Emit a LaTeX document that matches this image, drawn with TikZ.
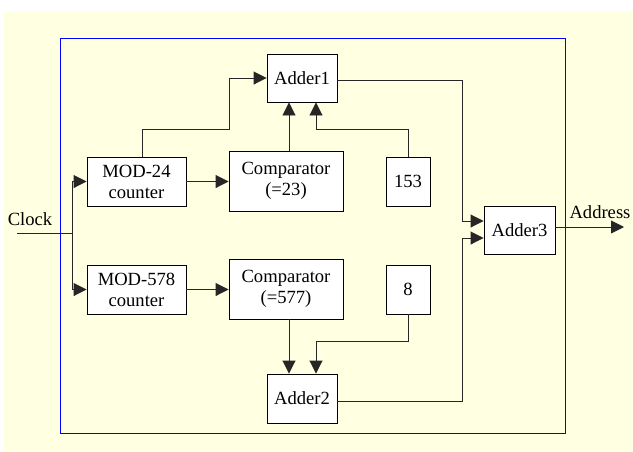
\documentclass[tikz,border=0pt]{standalone}
\usepackage{fontspec}
\setmainfont{Liberation Serif}
\usetikzlibrary{arrows.meta}
\definecolor{paper}{RGB}{255,255,225}
\begin{document}
\begin{tikzpicture}[x=1pt,y=-1pt,
  block/.style={draw=black, line width=0.9pt, fill=white, inner sep=0pt,
    align=center, font=\fontsize{18.6}{21}\selectfont},
  wire/.style={line width=0.9pt, draw=black!85},
  arr/.style={wire, -{Triangle[length=13pt,width=13pt]}},
  lbl/.style={font=\fontsize{18.6}{21}\selectfont, inner sep=0pt}]
\useasboundingbox (0,0) rectangle (633,451);
% background and frame
\fill[paper] (4,11) rectangle (633,451);
\draw[blue, line width=1pt] (60,38) rectangle (565,433);

% blocks
\node[block, minimum width=70pt, minimum height=48pt] (adder1) at (302,78) {Adder1};
\node[block, minimum width=99pt, minimum height=49pt] (mod24) at (136.5,181.5) {MOD-24\\counter};
\node[block, minimum width=114pt, minimum height=60pt] (comp1) at (286,181) {Comparator\\(=23)};
\node[block, minimum width=44pt, minimum height=49pt] (n153) at (408,181.5) {153};
\node[block, minimum width=71pt, minimum height=48pt] (adder3) at (519.5,230) {Adder3};
\node[block, minimum width=99pt, minimum height=49pt] (mod578) at (136.5,289.5) {MOD-578\\counter};
\node[block, minimum width=114pt, minimum height=60pt] (comp2) at (286,289) {Comparator\\(=577)};
\node[block, minimum width=44pt, minimum height=49pt] (n8) at (408,289.5) {8};
\node[block, minimum width=70pt, minimum height=49pt] (adder2) at (302,398.5) {Adder2};

% input and output
\coordinate (clk) at (17,233);
\coordinate (split) at (72,233);
\coordinate (addr) at (624,227);
\node[lbl] (clklbl) at (30,219) {Clock};
\node[lbl] (addrlbl) at (600,212) {Address};

\draw[wire] (clk) -- (split);
\draw[arr] (split) |- (mod24.west);
\draw[arr] (split) |- (mod578.west);

% upper branch
\draw[arr] (mod24.north -| 142,0) |- (229,129) |- (adder1.west);
\draw[arr] (mod24.east) -- (comp1.west |- mod24.east);
\draw[arr] (comp1.north -| 289,0) -- (adder1.south -| 289,0);
\draw[arr] (n153.north) |- (316,129) -- (adder1.south -| 316,0);
\draw[arr] (adder1.east |- 0,80) -| (462,221) -- (adder3.west |- 0,221);

% lower branch
\draw[arr] (mod578.east) -- (comp2.west |- mod578.east);
\draw[arr] (comp2.south -| 289,0) -- (adder2.north -| 289,0);
\draw[arr] (n8.south) |- (316,341) -- (adder2.north -| 316,0);
\draw[arr] (adder2.east |- 0,401) -| (462,238) -- (adder3.west |- 0,238);

% output
\draw[arr] (adder3.east |- addr) -- (addr);
\end{tikzpicture}
\end{document}
